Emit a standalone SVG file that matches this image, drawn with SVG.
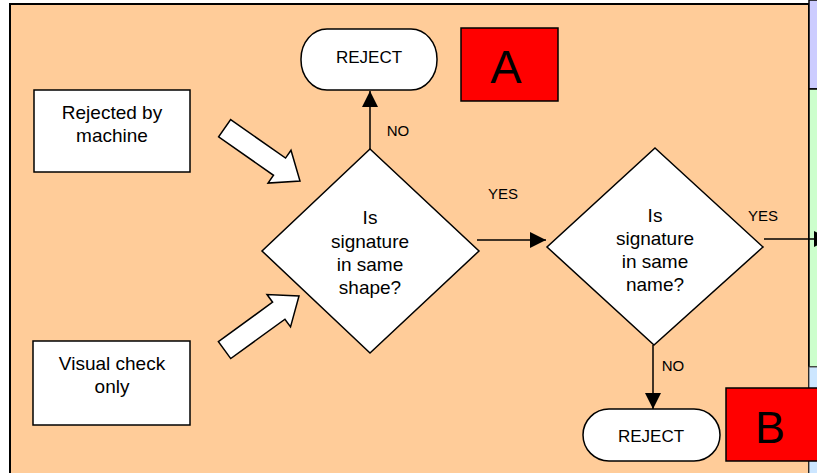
<svg xmlns="http://www.w3.org/2000/svg" width="817" height="473" viewBox="0 0 817 473">
  <defs>
    <style>
      .txt { font-family: "Liberation Sans", Arial, sans-serif; fill: #000; text-anchor: middle; }
      .box { fill: #fff; stroke: #000; stroke-width: 1.5; }
      .tag { fill: #ff0000; stroke: #000; stroke-width: 1.5; }
      .conn { fill: none; stroke: #000; stroke-width: 1.5; }
      .lbl { font-size: 15px; }
      .big { font-size: 19px; }
    </style>
    <marker id="headBig" viewBox="0 0 16 16" refX="16" refY="8" markerWidth="16" markerHeight="16" markerUnits="userSpaceOnUse" orient="auto">
      <path d="M0,0 L16,8 L0,16 z" fill="#000"/>
    </marker>
    <!-- hollow block arrow pointing along +x, tip at origin -->
    <path id="blockArrow" d="M-92,-10.5 L-25,-10.5 L-25,-20 L0,0 L-25,20 L-25,10.5 L-92,10.5 z"/>
  </defs>

  <!-- page background and swimlane panel -->
  <rect x="0" y="0" width="817" height="473" fill="#fff"/>
  <rect x="10" y="4" width="799" height="480" fill="#FFCC99" stroke="#000" stroke-width="2"/>

  <!-- neighbouring lanes on the right -->
  <rect x="809" y="0" width="10" height="89" fill="#CCCCFF" stroke="#000" stroke-width="1.5"/>
  <rect x="809" y="89" width="10" height="278" fill="#CCFFCC" stroke="#000" stroke-width="1.5"/>
  <rect x="809" y="367" width="10" height="110" fill="#CCE6FF" stroke="#555" stroke-width="1"/>

  <!-- input sources -->
  <g id="rejected-by-machine">
    <rect class="box" x="34" y="90" width="156" height="82"/>
    <text class="txt big" x="112" y="119">Rejected by</text>
    <text class="txt big" x="112" y="142">machine</text>
  </g>
  <g id="visual-check">
    <rect class="box" x="33" y="341" width="157" height="84"/>
    <text class="txt big" x="112" y="370">Visual check</text>
    <text class="txt big" x="112" y="393">only</text>
  </g>

  <!-- decisions -->
  <g id="shape-check">
    <polygon class="box" points="370,149 479,251 370,353 262,251"/>
    <text class="txt big" x="370" y="224">Is</text>
    <text class="txt big" x="370" y="248">signature</text>
    <text class="txt big" x="370" y="271">in same</text>
    <text class="txt big" x="370" y="294">shape?</text>
  </g>
  <g id="name-check">
    <polygon class="box" points="655,148 763,247 654,345 547,247"/>
    <text class="txt big" x="655" y="222">Is</text>
    <text class="txt big" x="655" y="245">signature</text>
    <text class="txt big" x="655" y="268">in same</text>
    <text class="txt big" x="655" y="291">name?</text>
  </g>

  <!-- terminals -->
  <g id="reject-a">
    <rect class="box" x="301" y="29" width="136" height="61" rx="26" ry="30"/>
    <text class="txt" x="369" y="63" font-size="17">REJECT</text>
  </g>
  <g id="reject-b">
    <rect class="box" x="583" y="409" width="137" height="52" rx="26" ry="26"/>
    <text class="txt" x="651" y="442" font-size="17">REJECT</text>
  </g>

  <!-- section tags -->
  <g id="tag-a">
    <rect class="tag" x="461" y="28" width="97" height="73"/>
    <text class="txt" x="506" y="83" font-size="47">A</text>
  </g>
  <g id="tag-b">
    <rect class="tag" x="726" y="388" width="92" height="73"/>
    <text class="txt" x="770" y="443" font-size="45">B</text>
  </g>

  <!-- connectors -->
  <g id="connectors">
    <use href="#blockArrow" transform="translate(300,181) rotate(35)" fill="#fff" stroke="#000" stroke-width="1.5"/>
    <use href="#blockArrow" transform="translate(299,296) rotate(-36)" fill="#fff" stroke="#000" stroke-width="1.5"/>

    <line class="conn" x1="370" y1="149" x2="370" y2="91" marker-end="url(#headBig)"/>
    <line class="conn" x1="477" y1="240" x2="546" y2="240" marker-end="url(#headBig)"/>
    <line class="conn" x1="653" y1="345" x2="653" y2="409" marker-end="url(#headBig)"/>
    <line class="conn" x1="764" y1="239" x2="830" y2="239" marker-end="url(#headBig)"/>

    <text class="txt lbl" x="398" y="136">NO</text>
    <text class="txt lbl" x="503" y="199">YES</text>
    <text class="txt lbl" x="763" y="221">YES</text>
    <text class="txt lbl" x="673" y="371">NO</text>
  </g>
</svg>
